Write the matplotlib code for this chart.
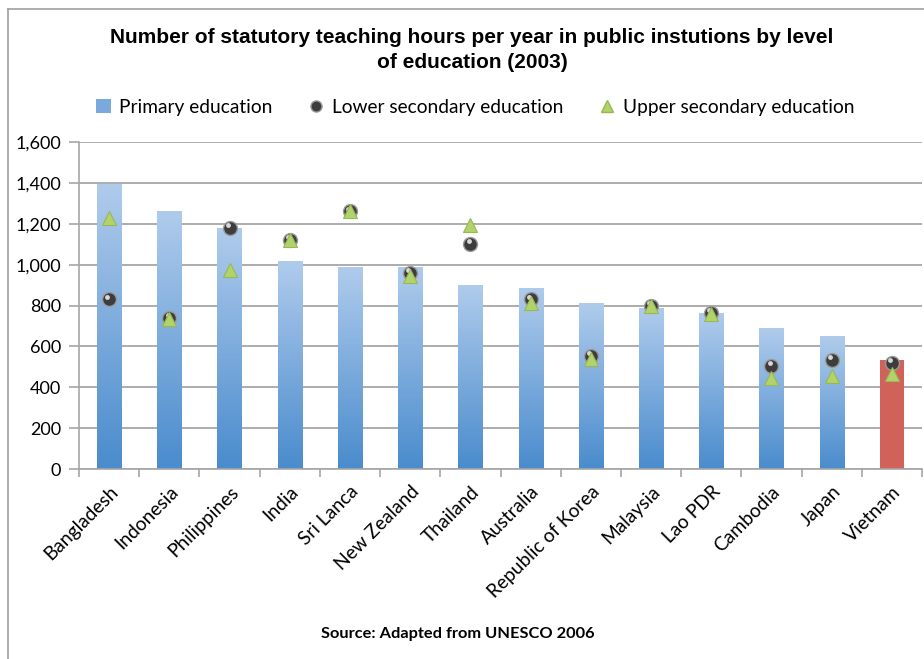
import numpy as np
import matplotlib.pyplot as plt
from matplotlib.colors import LinearSegmentedColormap
from matplotlib.lines import Line2D
from matplotlib.patches import Patch

countries = ['Bangladesh', 'Indonesia', 'Philippines', 'India', 'Sri Lanca',
             'New Zealand', 'Thailand', 'Australia', 'Republic of Korea',
             'Malaysia', 'Lao PDR', 'Cambodia', 'Japan', 'Vietnam']
primary = [1390, 1260, 1175, 1013, 985, 985, 900, 885, 810, 785, 762, 687, 647, 535]
lower_sec = [830, 740, 1180, 1120, 1260, 960, 1100, 830, 553, 798, 762, 505, 535, 520]
upper_sec = [1230, 736, 975, 1120, 1260, 945, 1195, 810, 540, 798, 758, 445, 455, 465]

plt.rcParams['font.family'] = ['Lato', 'DejaVu Sans']

fig = plt.figure(figsize=(9.24, 6.59), dpi=100)
ax = fig.add_axes([79/924, 1-469/659, 843/924, 327/659])

width = 0.4
idx = np.arange(len(countries))
grad = LinearSegmentedColormap.from_list('g', ['#4a8ccd', '#afcbec'])
ramp = np.linspace(0, 1, 100).reshape(-1, 1)

for i, h in zip(idx, primary):
    if countries[i] == 'Vietnam':
        ax.bar(i, h, width=width, color='#d0625a', zorder=2)
    else:
        ax.imshow(ramp, extent=[i - width/2, i + width/2, 0, h], origin='lower',
                  cmap=grad, aspect='auto', zorder=2)

ax.plot(idx, lower_sec, 'o', ms=10, mfc='#3d3d3d', mec='#9a9a9a', mew=1, zorder=3)
ax.plot(idx - 0.03, np.array(lower_sec) + 14, 'o', ms=3.5, mfc='#d8d8d8', mec='none', zorder=3)
ax.plot(idx, upper_sec, '^', ms=10, mfc='#b2d26a', mec='#97b855', mew=0.8, zorder=4)

ax.set_xlim(-0.5, len(countries) - 0.5)
ax.set_ylim(0, 1600)
ax.set_yticks(range(0, 1601, 200))
ax.set_yticklabels(['{:,}'.format(v) for v in range(0, 1601, 200)], fontsize=13)
ax.yaxis.grid(True, color='#a6a6a6', lw=1.3, zorder=0)
ax.set_axisbelow(True)

ax.set_xticks(idx)
ax.set_xticklabels(countries, rotation=45, ha='right', va='top',
                   rotation_mode='anchor', fontsize=13.8)
ax.tick_params(axis='x', length=0, pad=10)
ax.set_xticks(np.arange(-0.5, len(countries), 1), minor=True)
ax.tick_params(axis='x', which='minor', length=6, color='#a6a6a6', width=1.2)
ax.tick_params(axis='y', length=7, color='#a6a6a6', width=1.2, pad=6)

for s in ['right', 'top']:
    ax.spines[s].set_visible(False)
for s in ['left', 'bottom']:
    ax.spines[s].set_color('#a6a6a6')
    ax.spines[s].set_linewidth(1.2)

handles = [Patch(facecolor='#7aa9dc', edgecolor='none'),
           Line2D([], [], marker='o', ls='none', ms=8, mfc='#3d3d3d', mec='#9a9a9a'),
           Line2D([], [], marker='^', ls='none', ms=9, mfc='#b2d26a', mec='#97b855')]
fig.legend(handles, ['Primary education', 'Lower secondary education',
                     'Upper secondary education'],
           loc='center', bbox_to_anchor=(475/924, 1-107/659), ncol=3, frameon=False,
           fontsize=13.8, handlelength=0.8, handletextpad=0.4, columnspacing=1.9)

fig.text(472/924, 1-50/659,
         'Number of statutory teaching hours per year in public instutions by level\nof education (2003)',
         ha='center', va='center', fontsize=15, fontweight='bold',
         family='Liberation Sans', linespacing=1.35)
fig.text(458/924, 1-634/659, 'Source: Adapted from UNESCO 2006', ha='center',
         va='center', fontsize=11.8, fontweight='bold')

# outer frame (left and top edges only visible)
fig.add_artist(Line2D([8/924, 8/924], [0, 1-9/659], color='#a0a0a0', lw=1.2,
                      transform=fig.transFigure))
fig.add_artist(Line2D([8/924, 1], [1-9/659, 1-9/659], color='#a0a0a0', lw=1.2,
                      transform=fig.transFigure))

fig.savefig('out.png', dpi=100)
plt.close('all')
